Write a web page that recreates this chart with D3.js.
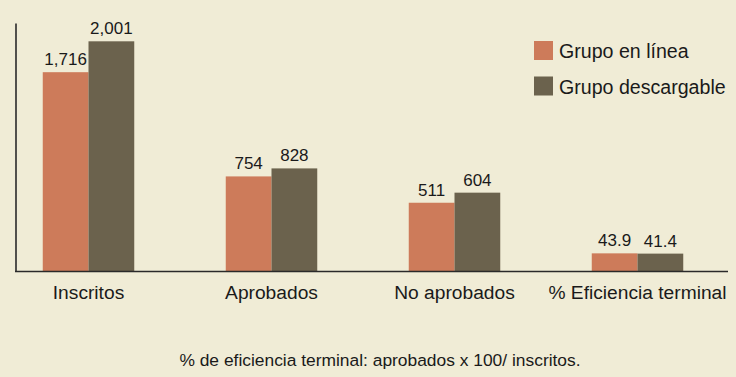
<!DOCTYPE html>
<html>
<head>
<meta charset="utf-8">
<script src="https://cdn.jsdelivr.net/npm/d3@7"></script>
<style>
  html, body { margin: 0; padding: 0; background: #f0ecd6; }
  svg { display: block; font-family: "Liberation Sans", Arial, sans-serif; }
</style>
</head>
<body>
<script>
const chartWidth = 736;
const chartHeight = 377;
const baselineY = 271;
const axisTopY = 23;
const axisLeftX = 15;
const axisRightX = 728;

const categories = ['Inscritos', 'Aprobados', 'No aprobados', '% Eficiencia terminal'];
const seriesNames = ['Grupo en línea', 'Grupo descargable'];
const enLinea = [1716, 754, 511, 43.9];
const descargable = [2001, 828, 604, 41.4];
const valueLabelsEnLinea = ['1,716', '754', '511', '43.9'];
const valueLabelsDescargable = ['2,001', '828', '604', '41.4'];
const colors = ['#cd7b5a', '#6b624d'];
const footnote = '% de eficiencia terminal: aprobados x 100/ inscritos.';

const rows = categories.map((c, i) => ({
  category: c,
  values: [
    { series: 0, value: enLinea[i], label: valueLabelsEnLinea[i] },
    { series: 1, value: descargable[i], label: valueLabelsDescargable[i] }
  ]
}));

const svg = d3.select('body')
  .append('svg')
  .attr('width', chartWidth)
  .attr('height', chartHeight);

svg.append('rect')
  .attr('width', chartWidth)
  .attr('height', chartHeight)
  .attr('fill', '#f0ecd6');

const xScale = d3.scaleBand()
  .domain(categories)
  .range([-3, 729])
  .paddingInner(0.5)
  .paddingOuter(0.25);

const xInner = d3.scaleBand()
  .domain([0, 1])
  .range([0, xScale.bandwidth()]);

// the original bars sit on a baseline that is not zero
const yScale = d3.scaleLinear()
  .domain([-119, 2170])
  .range([baselineY, axisTopY]);

const groups = svg.selectAll('g.group')
  .data(rows)
  .enter()
  .append('g')
  .attr('class', 'group')
  .attr('transform', d => 'translate(' + xScale(d.category) + ',0)');

groups.selectAll('rect')
  .data(d => d.values)
  .enter()
  .append('rect')
  .attr('x', d => xInner(d.series))
  .attr('y', d => yScale(d.value))
  .attr('width', xInner.bandwidth())
  .attr('height', d => yScale.range()[0] - yScale(d.value))
  .attr('fill', d => colors[d.series]);

groups.selectAll('text')
  .data(d => d.values)
  .enter()
  .append('text')
  .attr('x', d => xInner(d.series) + xInner.bandwidth() / 2)
  .attr('y', d => yScale(d.value) - 7)
  .attr('text-anchor', 'middle')
  .attr('font-size', 17)
  .attr('fill', '#1a1a1a')
  .text(d => d.label);

const xAxis = d3.axisBottom(xScale).tickSize(0).tickPadding(0);

const xAxisG = svg.append('g')
  .attr('transform', 'translate(0,' + baselineY + ')')
  .call(xAxis);
xAxisG.select('.domain').remove();
xAxisG.selectAll('text')
  .attr('font-size', 19.2)
  .attr('fill', '#1a1a1a')
  .attr('font-family', '"Liberation Sans", Arial, sans-serif')
  .attr('dy', 0)
  .attr('y', 28);

svg.append('line')
  .attr('x1', axisLeftX)
  .attr('x2', axisRightX)
  .attr('y1', baselineY + 0.5)
  .attr('y2', baselineY + 0.5)
  .attr('stroke', '#2a2a2a')
  .attr('stroke-width', 1.6);

const yAxis = d3.axisLeft(yScale).tickValues([]).tickSizeOuter(0);
const yAxisG = svg.append('g')
  .attr('transform', 'translate(' + (axisLeftX + 0.5) + ',0)')
  .call(yAxis);
yAxisG.select('.domain')
  .attr('stroke', '#2a2a2a')
  .attr('stroke-width', 1.6);

const legend = svg.selectAll('g.legend')
  .data(seriesNames)
  .enter()
  .append('g')
  .attr('class', 'legend')
  .attr('transform', (d, i) => 'translate(534,' + (41 + i * 35.5) + ')');

legend.append('rect')
  .attr('width', 19)
  .attr('height', 19)
  .attr('fill', (d, i) => colors[i]);

legend.append('text')
  .attr('x', 25)
  .attr('y', 17)
  .attr('font-size', 19.6)
  .attr('fill', '#1a1a1a')
  .text(d => d);

svg.append('text')
  .attr('x', 380)
  .attr('y', 366)
  .attr('text-anchor', 'middle')
  .attr('font-size', 17.4)
  .attr('fill', '#1a1a1a')
  .text(footnote);
</script>
</body>
</html>
